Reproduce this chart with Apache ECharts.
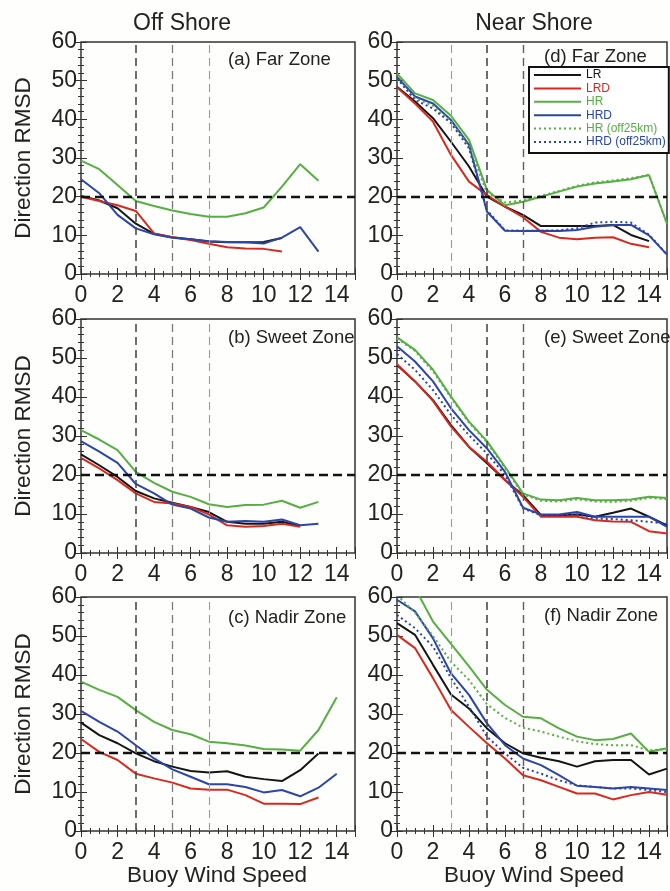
<!DOCTYPE html>
<html>
<head>
<meta charset="utf-8">
<title>Direction RMSD vs Buoy Wind Speed</title>
<script src="https://cdn.jsdelivr.net/npm/echarts@6/dist/echarts.min.js"></script>
<style>
  html, body { margin: 0; padding: 0; background: #fefefc; }
  #chart { width: 670px; height: 891px; }
</style>
</head>
<body>
<div id="chart"></div>
<script>
// Wind speed bins (m/s) shared by every panel
const windSpeed = [0, 1, 2, 3, 4, 5, 6, 7, 8, 9, 10, 11, 12, 13, 14, 15];
const xTickLabels = [0, 2, 4, 6, 8, 10, 12, 14];
const yTickLabels = [0, 10, 20, 30, 40, 50, 60];
const refSpeeds = [3, 5, 7];
const refRmsd = 20;

// Off shore, far zone
const offFarLR  = [20.2, 19.0, 17.0, 13.0, 10.4, 9.5, 9.0, 8.4, 8.2, 8.2, 8.3, 9.3];
const offFarLRD = [20.0, 18.9, 17.8, 16.3, 10.5, 9.5, 8.8, 7.8, 6.9, 6.6, 6.5, 5.8];
const offFarHR  = [29.3, 27.1, 23.0, 18.9, 17.6, 16.4, 15.5, 14.8, 14.8, 15.7, 17.2, 22.6, 28.4, 24.1];
const offFarHRD = [24.5, 20.9, 15.3, 11.8, 10.3, 9.4, 9.0, 8.5, 8.3, 8.2, 7.9, 9.4, 12.1, 5.8];

// Off shore, sweet zone
const offSweetLR  = [25.3, 22.5, 19.5, 15.9, 14.0, 12.9, 11.8, 10.5, 8.0, 7.5, 7.5, 8.0, 6.9];
const offSweetLRD = [24.4, 21.7, 18.7, 15.3, 13.1, 12.7, 11.8, 9.9, 7.1, 6.7, 6.9, 7.5, 6.7];
const offSweetHR  = [31.5, 29.1, 26.4, 20.8, 18.0, 15.7, 14.4, 12.5, 11.8, 12.3, 12.4, 13.4, 11.6, 13.1];
const offSweetHRD = [28.7, 26.0, 23.1, 17.7, 15.3, 12.4, 11.4, 9.1, 8.0, 8.2, 8.0, 8.6, 7.1, 7.5];

// Off shore, nadir zone
const offNadirLR  = [27.8, 24.6, 22.5, 19.9, 17.9, 16.5, 15.4, 15.0, 15.3, 13.9, 13.3, 12.8, 15.6, 19.9];
const offNadirLRD = [23.6, 20.3, 18.2, 14.7, 13.5, 12.4, 10.9, 10.6, 10.6, 9.2, 7.0, 7.0, 6.9, 8.6];
const offNadirHR  = [38.3, 36.2, 34.4, 31.0, 28.0, 25.9, 24.8, 22.9, 22.5, 21.9, 21.0, 20.9, 20.6, 25.9, 34.3];
const offNadirHRD = [30.8, 28.0, 25.5, 22.0, 18.6, 15.8, 13.9, 12.0, 12.0, 11.3, 9.9, 10.5, 8.9, 11.1, 14.7];

// Near shore, far zone
const nearFarLR     = [48.4, 44.6, 40.3, 34.2, 27.8, 20.0, 17.4, 15.3, 12.4, 12.4, 12.4, 12.4, 12.7, 10.1, 8.5];
const nearFarLRD    = [48.3, 44.1, 39.4, 30.8, 23.9, 20.4, 17.4, 14.7, 10.9, 9.4, 9.0, 9.4, 9.5, 7.8, 6.9];
const nearFarHR     = [51.9, 46.7, 45.0, 40.9, 34.7, 21.7, 17.8, 18.7, 20.0, 21.3, 22.6, 23.4, 23.9, 24.5, 25.6, 13.0];
const nearFarHRD    = [51.0, 45.9, 44.1, 39.8, 33.4, 16.1, 11.2, 11.1, 11.2, 11.1, 11.4, 12.2, 12.7, 12.7, 10.0, 5.0];
const nearFarHRoff  = [50.5, 45.5, 43.5, 39.5, 33.0, 21.0, 18.5, 19.0, 20.2, 21.5, 22.8, 23.7, 24.2, 24.8, 25.6, 13.0];
const nearFarHRDoff = [50.6, 45.0, 42.8, 39.0, 32.5, 16.5, 11.3, 11.2, 11.2, 11.3, 11.8, 13.3, 13.5, 13.3, 10.2, 5.0];

// Near shore, sweet zone
const nearSweetLR     = [48.2, 44.0, 39.2, 32.8, 27.2, 23.0, 18.7, 14.8, 9.7, 9.7, 9.9, 9.3, 10.3, 11.4, 9.3, 7.1];
const nearSweetLRD    = [48.4, 44.0, 39.0, 32.4, 27.2, 23.4, 18.7, 14.4, 9.3, 9.3, 9.3, 8.4, 8.1, 8.0, 5.6, 5.0];
const nearSweetHR     = [55.3, 52.1, 47.0, 40.1, 33.7, 28.7, 22.1, 15.3, 13.7, 13.5, 14.1, 13.5, 13.5, 13.7, 14.4, 14.1];
const nearSweetHRD    = [53.0, 49.1, 44.0, 37.1, 31.5, 26.8, 20.8, 11.6, 9.9, 9.9, 10.5, 9.3, 9.3, 9.3, 9.3, 6.7];
const nearSweetHRoff  = [55.0, 51.8, 46.6, 39.8, 33.4, 28.4, 21.8, 15.0, 13.4, 13.2, 13.8, 13.2, 13.1, 13.4, 14.1, 13.8];
const nearSweetHRDoff = [51.0, 47.0, 41.8, 35.4, 30.2, 25.5, 20.0, 11.4, 9.7, 9.7, 9.9, 8.8, 8.7, 8.4, 8.0, 7.5];

// Near shore, nadir zone
const nearNadirLR     = [53.3, 50.3, 42.6, 35.0, 31.4, 26.3, 22.5, 19.9, 18.8, 17.9, 16.5, 17.9, 18.2, 18.2, 14.5, 16.0];
const nearNadirLRD    = [50.3, 46.9, 39.2, 31.0, 26.7, 22.5, 18.6, 14.3, 13.0, 11.3, 9.6, 9.6, 8.1, 9.2, 10.0, 9.3];
const nearNadirHR     = [66.5, 62.3, 53.7, 48.0, 42.2, 36.2, 32.3, 29.3, 28.9, 26.3, 24.2, 23.3, 23.6, 25.0, 20.3, 21.2];
const nearNadirHRD    = [59.3, 56.3, 49.4, 40.4, 34.9, 27.6, 22.0, 18.6, 16.9, 14.3, 11.6, 11.3, 10.9, 11.3, 10.9, 10.5];
const nearNadirHRoff  = [60.5, 56.0, 50.0, 43.4, 38.7, 32.5, 29.0, 26.5, 25.5, 24.2, 23.0, 22.3, 22.0, 22.0, 20.7, 21.0];
const nearNadirHRDoff = [55.4, 52.0, 47.3, 39.2, 31.9, 24.2, 19.9, 16.2, 14.7, 13.0, 11.7, 11.3, 10.9, 10.9, 10.5, 10.0];

const legendNames = ['LR', 'LRD', 'HR', 'HRD', 'HR (off25km)', 'HRD (off25km)'];

// ---------------------------------------------------------------------------
const FONT = '"Liberation Sans", Arial, Helvetica, sans-serif';
const TEXT = '#222222';
const AXIS = '#333333';

const seriesStyle = {
  'LR':            { color: '#151515', type: 'solid' },
  'LRD':           { color: '#d8291f', type: 'solid' },
  'HR':            { color: '#57ae44', type: 'solid' },
  'HRD':           { color: '#2c45a6', type: 'solid' },
  'HR (off25km)':  { color: '#57ae44', type: [2, 3] },
  'HRD (off25km)': { color: '#2c45a6', type: [2, 3] }
};

// titleDy: vertical offset of the zone caption from the panel top
const panels = [
  { title: '(a) Far Zone',   col: 0, row: 0, titleDy: 18, lines: [['LR', offFarLR], ['LRD', offFarLRD], ['HR', offFarHR], ['HRD', offFarHRD]] },
  { title: '(b) Sweet Zone', col: 0, row: 1, titleDy: 19, lines: [['LR', offSweetLR], ['LRD', offSweetLRD], ['HR', offSweetHR], ['HRD', offSweetHRD]] },
  { title: '(c) Nadir Zone', col: 0, row: 2, titleDy: 21, lines: [['LR', offNadirLR], ['LRD', offNadirLRD], ['HR', offNadirHR], ['HRD', offNadirHRD]] },
  { title: '(d) Far Zone',   col: 1, row: 0, titleDy: 15, lines: [['LR', nearFarLR], ['LRD', nearFarLRD], ['HR', nearFarHR], ['HRD', nearFarHRD], ['HR (off25km)', nearFarHRoff], ['HRD (off25km)', nearFarHRDoff]] },
  { title: '(e) Sweet Zone', col: 1, row: 1, titleDy: 19, lines: [['LR', nearSweetLR], ['LRD', nearSweetLRD], ['HR', nearSweetHR], ['HRD', nearSweetHRD], ['HR (off25km)', nearSweetHRoff], ['HRD (off25km)', nearSweetHRDoff]] },
  { title: '(f) Nadir Zone', col: 1, row: 2, titleDy: 19, lines: [['LR', nearNadirLR], ['LRD', nearNadirLRD], ['HR', nearNadirHR], ['HRD', nearNadirHRD], ['HR (off25km)', nearNadirHRoff], ['HRD (off25km)', nearNadirHRDoff]] }
];

// layout of the 3x2 panel matrix
const colLeft = [81, 397];
const rowTop = [42, 319, 597];
const rowHeight = [232, 234, 234];
const plotWidth = 274;

// dashed wind-speed guides: emphasis differs between the two columns
const guideStyle = [
  [{ color: '#4a4a4a', width: 1.6 }, { color: '#7a7a7a', width: 1.3 }, { color: '#9a9a9a', width: 1.1 }],
  [{ color: '#9a9a9a', width: 1.1 }, { color: '#4a4a4a', width: 1.6 }, { color: '#5e5e5e', width: 1.4 }]
];

const grids = [], xAxes = [], yAxes = [], series = [], graphics = [];

function tickCommon(showLabel, isX) {
  return {
    axisLine: { show: false },
    axisTick: { show: true, inside: true, length: 6, lineStyle: { color: AXIS, width: 1 } },
    minorTick: { show: true, splitNumber: isX ? 4 : 5, length: 3, lineStyle: { color: AXIS, width: 1 } },
    splitLine: { show: false },
    minorSplitLine: { show: false },
    axisLabel: {
      show: showLabel,
      margin: isX ? 10 : 4,
      fontSize: 23,
      fontFamily: FONT,
      color: TEXT,
      formatter: v => (isX ? xTickLabels : yTickLabels).includes(v) ? String(v) : ''
    }
  };
}

panels.forEach((p, i) => {
  grids.push({
    left: colLeft[p.col], top: rowTop[p.row], width: plotWidth, height: rowHeight[p.row],
    show: true, borderColor: AXIS, borderWidth: 1.5, backgroundColor: 'transparent'
  });
  // bottom + top x axes, left + right y axes (ticks on all four sides)
  xAxes.push(Object.assign({ type: 'value', gridIndex: i, min: 0, max: 15, interval: 2, position: 'bottom' }, tickCommon(true, true)));
  xAxes.push(Object.assign({ type: 'value', gridIndex: i, min: 0, max: 15, interval: 2, position: 'top' }, tickCommon(false, true)));
  yAxes.push(Object.assign({ type: 'value', gridIndex: i, min: 0, max: 60, interval: 10, position: 'left' }, tickCommon(true, false)));
  yAxes.push(Object.assign({ type: 'value', gridIndex: i, min: 0, max: 60, interval: 10, position: 'right' }, tickCommon(false, false)));

  // reference guides
  series.push({
    type: 'line', name: 'guides', xAxisIndex: 2 * i, yAxisIndex: 2 * i,
    data: [], silent: true, z: 1,
    markLine: {
      silent: true, symbol: ['none', 'none'], animation: false,
      label: { show: false },
      data: refSpeeds.map((s, k) => ({
        xAxis: s,
        lineStyle: { color: guideStyle[p.col][k].color, width: guideStyle[p.col][k].width, type: [8, 5] }
      })).concat([{ yAxis: refRmsd, lineStyle: { color: '#111', width: 2.4, type: [9, 5] } }])
    }
  });

  p.lines.forEach(([name, values]) => {
    const st = seriesStyle[name];
    series.push({
      type: 'line', name: name, xAxisIndex: 2 * i, yAxisIndex: 2 * i,
      data: values.map((v, k) => [windSpeed[k], v]),
      symbol: 'none', clip: true, z: 3, animation: false,
      lineStyle: { color: st.color, width: 2, type: st.type },
      itemStyle: { color: st.color }
    });
  });

  graphics.push({
    type: 'text', x: colLeft[p.col] + 147, y: rowTop[p.row] + p.titleDy, z: 100,
    style: { text: p.title, font: '18.5px ' + FONT, fill: TEXT, align: 'left', verticalAlign: 'middle' }
  });
});

// column headings and axis titles
graphics.push(
  { type: 'text', x: 182, y: 24, z: 100, style: { text: 'Off Shore', font: '23px ' + FONT, fill: TEXT, align: 'center', verticalAlign: 'middle' } },
  { type: 'text', x: 534, y: 24, z: 100, style: { text: 'Near Shore', font: '23px ' + FONT, fill: TEXT, align: 'center', verticalAlign: 'middle' } },
  { type: 'text', x: 217, y: 876, z: 100, style: { text: 'Buoy Wind Speed', font: '22.5px ' + FONT, fill: TEXT, align: 'center', verticalAlign: 'middle' } },
  { type: 'text', x: 534, y: 876, z: 100, style: { text: 'Buoy Wind Speed', font: '22.5px ' + FONT, fill: TEXT, align: 'center', verticalAlign: 'middle' } }
);
rowTop.forEach((t, r) => {
  graphics.push({
    type: 'text', x: 24, y: t + rowHeight[r] / 2, rotation: Math.PI / 2, z: 100,
    style: { text: 'Direction RMSD', font: '22.5px ' + FONT, fill: TEXT, align: 'center', verticalAlign: 'middle' }
  });
});

const chart = echarts.init(document.getElementById('chart'), null, { renderer: 'canvas', width: 670, height: 891 });
chart.setOption({
  backgroundColor: '#fefefc',
  animation: false,
  grid: grids,
  xAxis: xAxes,
  yAxis: yAxes,
  legend: {
    orient: 'vertical', left: 529, top: 67,
    padding: [2, 3, 5, 4], itemGap: 1.4, itemWidth: 47, itemHeight: 14,
    borderColor: '#111', borderWidth: 2, backgroundColor: '#ffffff',
    selectedMode: false,
    itemStyle: { opacity: 0 },
    textStyle: { fontFamily: FONT, fontSize: 12 },
    data: legendNames.map(n => ({ name: n, textStyle: { color: seriesStyle[n].color } }))
  },
  graphic: graphics,
  series: series
});
</script>
</body>
</html>
